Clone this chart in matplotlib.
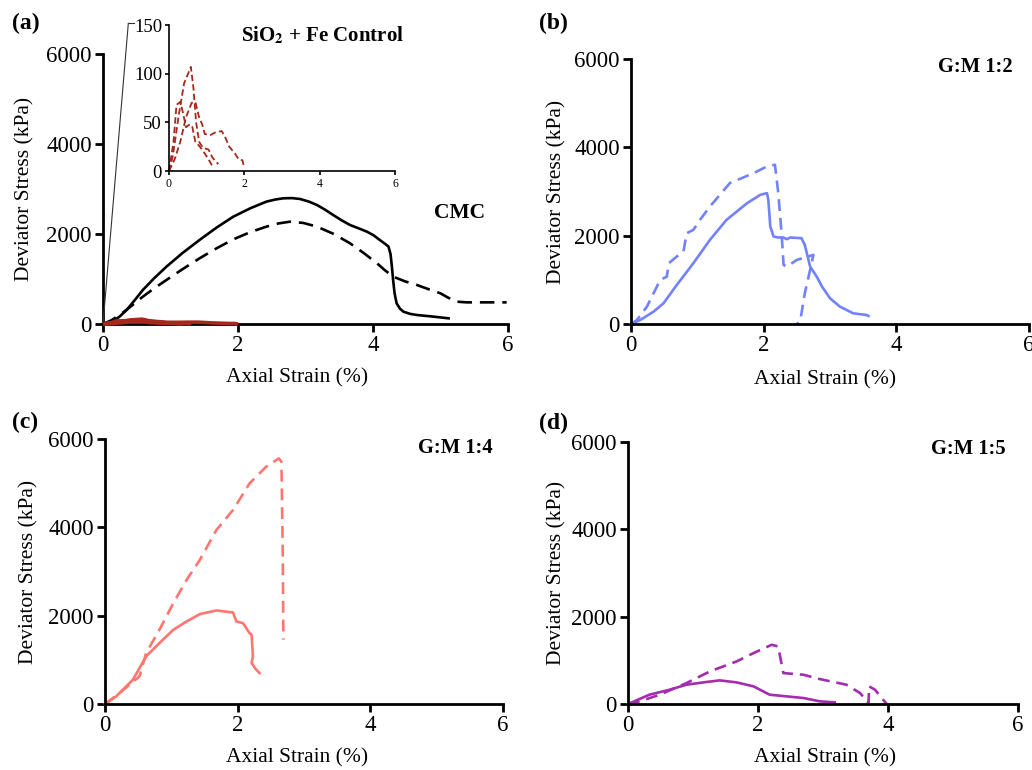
import matplotlib
matplotlib.use("Agg")
import matplotlib.pyplot as plt
from matplotlib.patches import ConnectionPatch

plt.rcParams['font.family'] = ['Liberation Serif', 'DejaVu Serif']
plt.rcParams['mathtext.fontset'] = 'stix'

# (a) CMC
cmc_solid_x = [0, 0.08, 0.15, 0.25, 0.35, 0.47, 0.59, 0.76, 0.94, 1.18, 1.43, 1.68, 1.93, 2.18,
               2.42, 2.55, 2.67, 2.80, 2.92, 3.05, 3.17, 3.29, 3.41, 3.54, 3.66, 3.78, 3.91,
               4.01, 4.10, 4.18, 4.23, 4.26, 4.28, 4.30, 4.32, 4.35, 4.40, 4.45, 4.55, 4.65,
               4.90, 5.12]
cmc_solid_y = [0, 20, 60, 170, 311, 530, 755, 1020, 1274, 1580, 1867, 2140, 2385, 2570,
               2719, 2765, 2793, 2798, 2778, 2720, 2644, 2540, 2422, 2300, 2200, 2130, 2052,
               1970, 1867, 1780, 1719, 1550, 1274, 950, 680, 459, 340, 274, 225, 200,
               163, 126]
cmc_dash_x = [0, 0.12, 0.25, 0.42, 0.59, 0.76, 0.94, 1.18, 1.43, 1.68, 1.93, 2.18, 2.42, 2.60,
              2.77, 2.97, 3.17, 3.42, 3.66, 3.86, 4.06, 4.18, 4.30, 4.47, 4.65, 4.82, 5.00,
              5.12, 5.24, 5.39, 5.98]
cmc_dash_y = [0, 80, 200, 400, 607, 795, 978, 1220, 1459, 1680, 1881, 2040, 2163, 2235,
              2274, 2245, 2163, 2000, 1793, 1580, 1348, 1190, 1052, 950, 867, 775, 681,
              580, 496, 481, 481]

# SiO2 + Fe control (three samples)
ctrl_a_x = [0, 0.10, 0.25, 0.40, 0.55, 0.58, 0.65, 0.72, 0.80, 0.90, 1.05, 1.15, 1.31]
ctrl_a_y = [0, 15, 55, 90, 104, 107, 85, 50, 30, 24, 22, 14, 7]
ctrl_b_x = [0, 0.12, 0.20, 0.30, 0.37, 0.45, 0.55, 0.62, 0.70, 0.80, 0.95, 1.05, 1.18]
ctrl_b_y = [0, 30, 68, 71, 60, 45, 48, 45, 30, 26, 18, 12, 3]
ctrl_c_x = [0, 0.15, 0.30, 0.45, 0.60, 0.70, 0.80, 0.88, 0.95, 1.10, 1.25, 1.40, 1.50, 1.60,
            1.75, 1.85, 1.95, 2.00]
ctrl_c_y = [0, 12, 30, 55, 70, 71, 55, 48, 38, 37, 40, 41, 34, 25, 18, 12, 11, 3]

# (b) G:M 1:2
gm12_solid_x = [0, 0.14, 0.34, 0.49, 0.69, 0.94, 1.19, 1.44, 1.75, 1.95, 2.05, 2.07, 2.10, 2.15,
                2.22, 2.30, 2.35, 2.40, 2.57, 2.62, 2.70, 2.80, 2.88, 3.00, 3.15, 3.35, 3.55, 3.58]
gm12_solid_y = [0, 91, 280, 469, 884, 1376, 1905, 2358, 2736, 2925, 2963, 2812, 2207, 1980,
                1958, 1958, 1920, 1958, 1943, 1791, 1300, 1073, 847, 582, 393, 242, 204, 181]
gm12_dash_x = [0, 0.09, 0.24, 0.34, 0.44, 0.54, 0.57, 0.69, 0.79, 0.84, 0.94, 1.04, 1.19, 1.49,
               1.85, 2.05, 2.17, 2.22, 2.27, 2.30, 2.35, 2.50, 2.75, 2.70, 2.62, 2.57, 2.55, 2.50]
gm12_dash_y = [0, 91, 393, 695, 998, 1073, 1376, 1527, 1640, 2056, 2131, 2358, 2660, 3190,
               3417, 3568, 3606, 2963, 2056, 1338, 1300, 1451, 1565, 1225, 695, 242, 60, 0]

# (c) G:M 1:4
gm14_solid_x = [0, 0.17, 0.42, 0.62, 0.82, 1.03, 1.23, 1.43, 1.68, 1.93, 1.98, 2.08, 2.18, 2.21,
                2.23, 2.21, 2.28, 2.33]
gm14_solid_y = [0, 173, 550, 1078, 1379, 1680, 1869, 2035, 2118, 2072, 1869, 1831, 1605, 1567,
                1078, 927, 776, 701]
gm14_dash_x = [0, 0.22, 0.52, 0.62, 0.82, 1.03, 1.23, 1.43, 1.68, 1.93, 2.18, 2.43, 2.62, 2.66,
               2.68, 2.69]
gm14_dash_y = [0, 249, 625, 1153, 1680, 2283, 2811, 3263, 3941, 4393, 4996, 5373, 5561, 5486,
               3338, 1454]

# (d) G:M 1:5
gm15_solid_x = [0, 0.33, 0.64, 0.90, 1.16, 1.41, 1.67, 1.93, 2.18, 2.44, 2.70, 2.95, 3.18]
gm15_solid_y = [0, 213, 327, 442, 495, 541, 495, 404, 213, 175, 137, 61, 38]
gm15_dash_x = [0, 0.18, 0.49, 0.90, 1.26, 1.67, 1.93, 2.21, 2.31, 2.39, 2.70, 2.95, 3.36, 3.57,
               3.70, 3.71, 3.80, 3.98]
gm15_dash_y = [0, 61, 213, 480, 746, 975, 1165, 1356, 1318, 708, 670, 571, 442, 251,
               23, 404, 327, 0]

x_ticks = [0, 2, 4, 6]
y_ticks = [0, 2000, 4000, 6000]
ctrl_y_ticks = [0, 50, 100, 150]

BLACK = 'black'
RED = '#a5281c'
BLUE = '#7282ff'
SALMON = '#ff7670'
PURPLE = '#a42cae'

fig = plt.figure(figsize=(10.32, 7.70), dpi=100)

W, H = 1032, 770


def px_axes(l, r, b, t):
    return fig.add_axes([l / W, 1 - b / H, (r - l) / W, (b - t) / H])


def style(ax, lw=2.0, ticklen=6, fs=16.5):
    for s in ['top', 'right']:
        ax.spines[s].set_visible(False)
    for s in ['left', 'bottom']:
        ax.spines[s].set_linewidth(lw)
    ax.tick_params(direction='out', length=ticklen, width=lw, labelsize=fs, pad=2)


def main_panel(ax, xlab_pos, ylab_pos):
    ax.set_xlim(0, 6)
    ax.set_ylim(0, 6000)
    ax.set_xticks(x_ticks)
    ax.set_yticks(y_ticks)
    style(ax)
    ax.set_xlabel('Axial Strain (%)', fontsize=15.5)
    ax.set_ylabel('Deviator Stress (kPa)', fontsize=15.5)
    ax.xaxis.set_label_coords(*xlab_pos)
    ax.yaxis.set_label_coords(*ylab_pos)


lw = 1.9
dash = (0, (4.5, 2.6))
dash_a = (0, (5.5, 3.0))

# (a)
ax_a = px_axes(103, 508, 324, 54)
main_panel(ax_a, (0.48, -0.162), (-0.170, 0.5))
for cx, cy in [(ctrl_a_x, ctrl_a_y), (ctrl_b_x, ctrl_b_y), (ctrl_c_x, ctrl_c_y)]:
    ax_a.plot(cx, cy, color=RED, lw=2.6, solid_capstyle='butt', clip_on=False, zorder=3)
ax_a.plot(cmc_solid_x, cmc_solid_y, color=BLACK, lw=lw, clip_on=False)
ax_a.plot(cmc_dash_x, cmc_dash_y, color=BLACK, lw=lw, linestyle=dash_a, clip_on=False)
fig.text(460 / W, 1 - 213 / H, 'CMC', fontsize=15.5,
         fontweight='bold', ha='center', va='center')

# inset with the control samples
ax_in = px_axes(169, 395, 171, 25)
ax_in.set_xlim(0, 6)
ax_in.set_ylim(0, 150)
ax_in.set_xticks(x_ticks)
ax_in.set_yticks(ctrl_y_ticks)
style(ax_in, lw=1.2, ticklen=3, fs=13.5)
ax_in.tick_params(axis='x', labelsize=8.5)
ax_in.patch.set_alpha(0)
for cx, cy in [(ctrl_a_x, ctrl_a_y), (ctrl_b_x, ctrl_b_y), (ctrl_c_x, ctrl_c_y)]:
    ax_in.plot(cx, cy, color=RED, lw=1.3, linestyle=(0, (3.5, 1.8)), clip_on=False)
fig.text(323 / W, 1 - 35 / H, r'SiO$_\mathbf{2}$ + Fe Control', fontsize=15,
         fontweight='bold', ha='center', va='center')

con = ConnectionPatch(xyA=(0, 0), coordsA=ax_a.transData,
                      xyB=(-0.18, 1.012), coordsB=ax_in.transAxes,
                      color='#333333', lw=0.8)
fig.add_artist(con)
ax_in.plot([-0.18, -0.155], [1.012, 1.012], transform=ax_in.transAxes,
           color='#333333', lw=0.8, clip_on=False)

# (b)
ax_b = px_axes(631, 1029, 324, 59)
main_panel(ax_b, (0.487, -0.174), (-0.163, 0.5))
ax_b.plot(gm12_solid_x, gm12_solid_y, color=BLUE, lw=lw, clip_on=False)
ax_b.plot(gm12_dash_x, gm12_dash_y, color=BLUE, lw=lw, linestyle=dash, clip_on=False)
fig.text(975 / W, 1 - 67 / H, 'G:M 1:2', fontsize=14.8, fontweight='bold',
         ha='center', va='center')

# (c)
ax_c = px_axes(105, 503, 704, 439)
main_panel(ax_c, (0.482, -0.166), (-0.168, 0.5))
ax_c.plot(gm14_solid_x, gm14_solid_y, color=SALMON, lw=lw, clip_on=False)
ax_c.plot(gm14_dash_x, gm14_dash_y, color=SALMON, lw=lw, linestyle=dash, clip_on=False)
fig.text(455 / W, 1 - 448 / H, 'G:M 1:4', fontsize=14.8, fontweight='bold',
         ha='center', va='center')

# (d)
ax_d = px_axes(628, 1018, 704, 442)
main_panel(ax_d, (0.505, -0.168), (-0.159, 0.5))
ax_d.plot(gm15_solid_x, gm15_solid_y, color=PURPLE, lw=lw, clip_on=False)
ax_d.plot(gm15_dash_x, gm15_dash_y, color=PURPLE, lw=lw, linestyle=dash, clip_on=False)
fig.text(968 / W, 1 - 449 / H, 'G:M 1:5', fontsize=14.8, fontweight='bold',
         ha='center', va='center')

# panel letters
for lab, x, y in [('(a)', 12, 23), ('(b)', 539, 23), ('(c)', 12, 422), ('(d)', 539, 423)]:
    fig.text(x / W, 1 - y / H, lab, fontsize=17, fontweight='bold', ha='left', va='center')

fig.savefig('out.png', dpi=100)
